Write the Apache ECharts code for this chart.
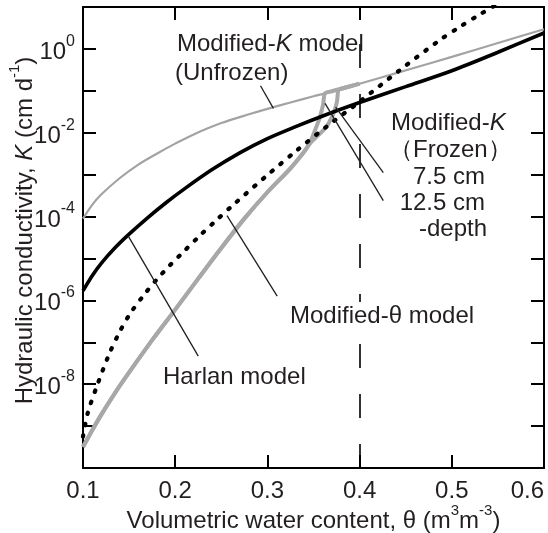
<!DOCTYPE html>
<html><head><meta charset="utf-8">
<script src="https://cdn.jsdelivr.net/npm/echarts@6.0.0/dist/echarts.min.js"></script>
<style>html,body{margin:0;padding:0;background:#fff}#c{width:548px;height:533px}</style>
</head><body><div id="c"></div>
<script>
// ---- data: theta (m3 m-3) and log10 of K (cm d-1) ----
const xTickValues = [0.1, 0.2, 0.3, 0.4, 0.5, 0.6];
const yLabelExponents = [0, -2, -4, -6, -8];

const thetaUnfrozen = [0.10,0.11,0.12,0.14,0.16,0.18,0.20,0.22,0.25,0.28,0.30,0.325,0.35,0.3625,0.38,0.40,0.43,0.455,0.50,0.55,0.60];
const logKUnfrozen  = [-4.05,-3.72,-3.47,-3.08,-2.76,-2.50,-2.26,-2.04,-1.77,-1.56,-1.43,-1.28,-1.13,-1.06,-0.95,-0.83,-0.64,-0.48,-0.19,0.14,0.47];

const thetaHarlan = [0.10,0.11,0.12,0.135,0.15,0.17,0.19,0.21,0.24,0.27,0.30,0.33,0.36,0.40,0.45,0.50,0.55,0.60];
const logKHarlan  = [-5.77,-5.41,-5.11,-4.74,-4.42,-4.03,-3.67,-3.34,-2.88,-2.48,-2.14,-1.86,-1.60,-1.28,-0.90,-0.52,-0.08,0.38];

const thetaModTheta = [0.100,0.105,0.115,0.129,0.140,0.151,0.165,0.180,0.194,0.209,0.227,0.245,0.263,0.300,0.332,0.365,0.397,0.444,0.487,0.509,0.531,0.552];
const logKModTheta  = [-9.25,-8.70,-8.05,-7.25,-6.74,-6.32,-5.90,-5.50,-5.17,-4.84,-4.45,-4.08,-3.72,-3.01,-2.42,-1.84,-1.31,-0.50,0.21,0.53,0.83,1.10];

const thetaFrozen75 = [0.100,0.110,0.120,0.135,0.150,0.175,0.200,0.225,0.250,0.275,0.300,0.325,0.340,0.346,0.355,0.364,0.370,0.373,0.3755,0.377,0.380,0.390,0.400];
const logKFrozen75  = [-9.50,-9.10,-8.72,-8.20,-7.72,-6.95,-6.22,-5.48,-4.75,-4.05,-3.42,-2.85,-2.45,-2.26,-2.06,-1.86,-1.62,-1.46,-1.25,-0.98,-0.95,-0.89,-0.83];

const thetaFrozen125 = [0.100,0.110,0.120,0.135,0.150,0.175,0.200,0.225,0.250,0.275,0.300,0.325,0.340,0.346,0.352,0.357,0.3605,0.3625,0.370,0.380,0.390,0.400];
const logKFrozen125  = [-9.50,-9.10,-8.72,-8.20,-7.72,-6.95,-6.22,-5.48,-4.75,-4.05,-3.42,-2.85,-2.45,-2.24,-1.92,-1.62,-1.32,-1.06,-1.01,-0.95,-0.89,-0.83];

// leader lines: [theta, log10 K] pairs
const leaderUnfrozen = [[0.2925,-0.88],[0.3065,-1.42]];
const leaderHarlan   = [[0.149,-4.46],[0.225,-7.33]];
const leaderModTheta = [[0.2562,-3.98],[0.3106,-5.90]];
const leader75       = [[0.374,-1.39],[0.4257,-2.95]];
const leader125      = [[0.3625,-1.30],[0.4257,-3.62]];

const pairs = (th, lk) => th.map((t, i) => [t, lk[i]]);

const FONT = 'Liberation Sans, Arial, Helvetica, sans-serif';
const TXT = '#231f20';

const chart = echarts.init(document.getElementById('c'), null, {renderer: 'canvas'});

const commonX = {
  type: 'value', min: 0.1, max: 0.6, interval: 0.1,
  axisLine: {show: true, onZero: false, lineStyle: {color: '#000', width: 2}},
  axisTick: {show: true, inside: true, length: 13, lineStyle: {color: '#000', width: 2}},
  splitLine: {show: false}
};
const commonY = {
  type: 'value', min: -10, max: 1, interval: 1,
  axisLine: {show: true, onZero: false, lineStyle: {color: '#000', width: 2}},
  axisTick: {show: true, inside: true, length: 13, lineStyle: {color: '#000', width: 2}},
  splitLine: {show: false}
};

function leaderSeries(arr) {
  return {type: 'line', data: arr, showSymbol: false, silent: true, z: 6,
    lineStyle: {color: TXT, width: 1.3}};
}
function curve(name, th, lk, z, lineStyle) {
  return {name: name, type: 'line', data: pairs(th, lk), smooth: 0.3,
    showSymbol: false, z: z, lineStyle: lineStyle};
}

const option = {
  animation: false,
  grid: {left: 83, right: 4, top: 7, bottom: 65, containLabel: false, outerBoundsMode: 'none'},
  xAxis: [
    Object.assign({}, commonX, {
      position: 'bottom',
      axisLabel: {show: true, margin: 11, fontSize: 24, fontFamily: FONT, color: TXT,
        alignMaxLabel: 'right', formatter: v => v.toFixed(1)},
      name: '{a|Volumetric water content, θ (m}{s|3}{a|m}{s|-3}{a|)}',
      nameLocation: 'middle', nameGap: 35, nameMoveOverlap: false,
      nameTextStyle: {fontFamily: FONT, color: TXT, rich: {
        a: {fontSize: 24, fontFamily: FONT, color: TXT, padding: [6,0,0,0], verticalAlign: 'bottom'},
        s: {fontSize: 15, fontFamily: FONT, color: TXT, verticalAlign: 'top'}
      }}
    }),
    Object.assign({}, commonX, {position: 'top', axisLabel: {show: false}})
  ],
  yAxis: [
    Object.assign({}, commonY, {
      position: 'left',
      axisLabel: {show: true, margin: 8, fontFamily: FONT, color: TXT,
        formatter: function (v) {
          const e = Math.round(v);
          if (yLabelExponents.indexOf(e) < 0) return '';
          return '{b|10}{s|' + e + '}';
        },
        rich: {
          b: {fontSize: 24, fontFamily: FONT, color: TXT, padding: [7,0,0,0], verticalAlign: 'bottom'},
          s: {fontSize: 16, fontFamily: FONT, color: TXT, verticalAlign: 'top'}
        }
      },
      name: '{a|Hydraulic conductivity, }{i|K}{a| (cm d}{s|-1}{a|)}',
      nameLocation: 'middle', nameGap: 46, nameMoveOverlap: false,
      nameTextStyle: {fontFamily: FONT, color: TXT, padding: [0,0,0,14], rich: {
        a: {fontSize: 24, fontFamily: FONT, color: TXT, padding: [6,0,0,0], verticalAlign: 'bottom'},
        i: {fontSize: 24, fontFamily: FONT, color: TXT, fontStyle: 'italic', padding: [6,0,0,0], verticalAlign: 'bottom'},
        s: {fontSize: 15, fontFamily: FONT, color: TXT, verticalAlign: 'top'}
      }}
    }),
    Object.assign({}, commonY, {position: 'right', axisLabel: {show: false}})
  ],
  series: [
    curve('Modified-K (Unfrozen)', thetaUnfrozen, logKUnfrozen, 2, {color: '#a3a3a3', width: 2.2}),
    curve('Modified-K (Frozen) 7.5 cm', thetaFrozen75, logKFrozen75, 3, {color: '#a8a8a8', width: 4}),
    curve('Modified-K (Frozen) 12.5 cm', thetaFrozen125, logKFrozen125, 3, {color: '#a8a8a8', width: 4}),
    Object.assign(curve('Harlan model', thetaHarlan, logKHarlan, 4, {color: '#000', width: 3.6}), {
      markLine: {silent: true, symbol: 'none', animation: false, label: {show: false},
        lineStyle: {color: '#000', width: 1.6, type: [24, 26]},
        data: [{xAxis: 0.4}]}}),
    curve('Modified-θ model', thetaModTheta, logKModTheta, 5, {color: '#000', width: 4.2, type: [1.5, 10], cap: 'round'}),
    leaderSeries(leaderUnfrozen),
    leaderSeries(leaderHarlan),
    leaderSeries(leaderModTheta),
    leaderSeries(leader75),
    leaderSeries(leader125)
  ],
  graphic: []
};

function label(text, x, y, align, extra) {
  const style = {
    text: text, fill: TXT, fontSize: 24, fontFamily: FONT,
    align: align, verticalAlign: 'middle',
    rich: {
      a: {fontSize: 24, fontFamily: FONT, fill: TXT},
      i: {fontSize: 24, fontFamily: FONT, fill: TXT, fontStyle: 'italic'}
    }
  };
  Object.assign(style, extra || {});
  return {type: 'text', x: x, y: y, z: 100, silent: true, style: style};
}

option.graphic = [
  label('{a|Modified-}{i|K}{a| model}', 177, 44, 'left'),
  label('(Unfrozen)', 175, 73, 'left'),
  label('{a|Modified-}{i|K}', 391, 123, 'left'),
  label('（Frozen）', 389, 150, 'left'),
  label('7.5 cm', 485, 177, 'right'),
  label('12.5 cm', 485, 203, 'right'),
  label('-depth', 487, 229, 'right'),
  label('Modified-θ model', 288, 316, 'left', {backgroundColor: '#fff', padding: [2, 2, 2, 2]}),
  label('Harlan model', 163, 377, 'left')
];

chart.setOption(option);
</script>
</body></html>
